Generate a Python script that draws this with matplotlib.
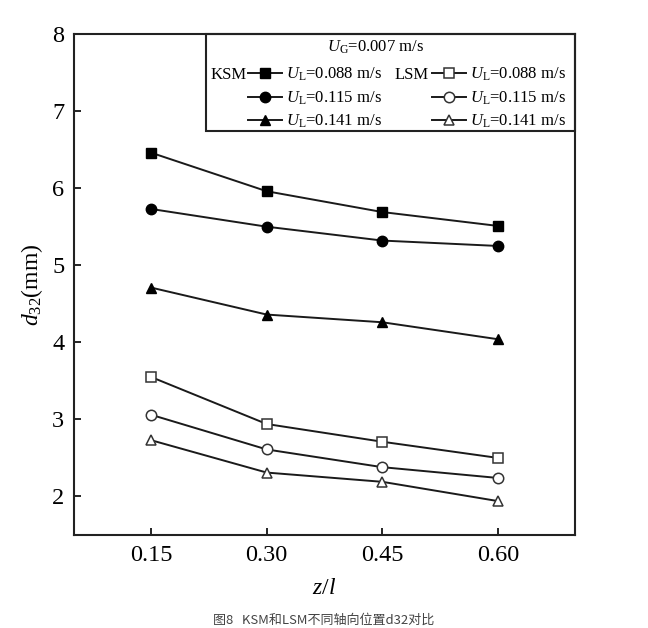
# d32 comparison, KSM vs LSM at different axial positions
import matplotlib
matplotlib.use('Agg')
import matplotlib.pyplot as plt
from matplotlib.patches import Rectangle

# --- data ---
z_l = [0.15, 0.30, 0.45, 0.60]
xtick_labels = ['0.15', '0.30', '0.45', '0.60']

ksm_088 = [6.46, 5.96, 5.69, 5.51]
ksm_115 = [5.73, 5.50, 5.32, 5.25]
ksm_141 = [4.71, 4.36, 4.26, 4.04]

lsm_088 = [3.55, 2.94, 2.71, 2.50]
lsm_115 = [3.06, 2.61, 2.38, 2.24]
lsm_141 = [2.73, 2.31, 2.19, 1.94]

ul_labels = ['0.088', '0.115', '0.141']
markers = ['s', 'o', '^']

plt.rcParams['font.family'] = ['Liberation Serif', 'DejaVu Serif']
plt.rcParams['mathtext.fontset'] = 'custom'
plt.rcParams['mathtext.rm'] = 'Liberation Serif'
plt.rcParams['mathtext.it'] = 'Liberation Serif:italic'

fig = plt.figure(figsize=(6.48, 6.28), dpi=100)
ax = fig.add_axes([74 / 648, 1 - 535 / 628, 501 / 648, 501 / 628])

ksm = [ksm_088, ksm_115, ksm_141]
lsm = [lsm_088, lsm_115, lsm_141]

ksm_handles, lsm_handles = [], []
for vals, m in zip(ksm, markers):
    h, = ax.plot(z_l, vals, color='#1a1a1a', lw=1.4, marker=m, ms=7.5,
                 mfc='black', mec='black', zorder=3)
    ksm_handles.append(h)
for vals, m in zip(lsm, markers):
    h, = ax.plot(z_l, vals, color='#1a1a1a', lw=1.4, marker=m, ms=7.5,
                 mfc='white', mec='#333333', mew=1.1, zorder=3)
    lsm_handles.append(h)

ax.set_xlim(0.05, 0.70)
ax.set_ylim(1.5, 8)
ax.set_xticks(z_l)
ax.set_xticklabels(xtick_labels)
ax.set_yticks([2, 3, 4, 5, 6, 7, 8])
ax.tick_params(direction='in', length=5, width=1.2, labelsize=17.5, pad=7,
               top=False, right=False)
for sp in ax.spines.values():
    sp.set_linewidth(1.5)
    sp.set_color('#222222')

ax.set_xlabel(r'$z/l$', fontsize=17, labelpad=9)
ax.set_ylabel(r'$d_{32}$(mm)', fontsize=17, labelpad=5)

# --- legend box ---
ax.add_patch(Rectangle((0.2635, 0.806), 1 - 0.2635, 1 - 0.806, transform=ax.transAxes,
                       fill=False, ec='#222222', lw=1.5, zorder=5, clip_on=False))
ax.text(0.601, 0.973, r'$U_{\rm G}$=0.007 m/s', transform=ax.transAxes,
        ha='center', va='center', fontsize=12)

handles = ksm_handles + lsm_handles
labels = [r'$U_{\rm L}$=' + s + ' m/s' for s in ul_labels] * 2
leg = ax.legend(handles, labels, ncol=2, loc='upper left', bbox_to_anchor=(0.347, 0.936),
                frameon=False, fontsize=12, handlelength=2.05, handletextpad=0.25,
                columnspacing=3.0, labelspacing=0.36, borderpad=0, borderaxespad=0)
ax.text(0.2715, 0.919, 'KSM', transform=ax.transAxes, ha='left', va='center', fontsize=12)
ax.text(0.639, 0.919, 'LSM', transform=ax.transAxes, ha='left', va='center', fontsize=12)

fig.text(0.5, 1 - 620 / 628, '图8   KSM和LSM不同轴向位置d32对比', ha='center', va='center',
         fontsize=9.4, color='#444444', family=['Noto Sans CJK SC', 'DejaVu Sans'])

fig.savefig('out.png', dpi=100)
